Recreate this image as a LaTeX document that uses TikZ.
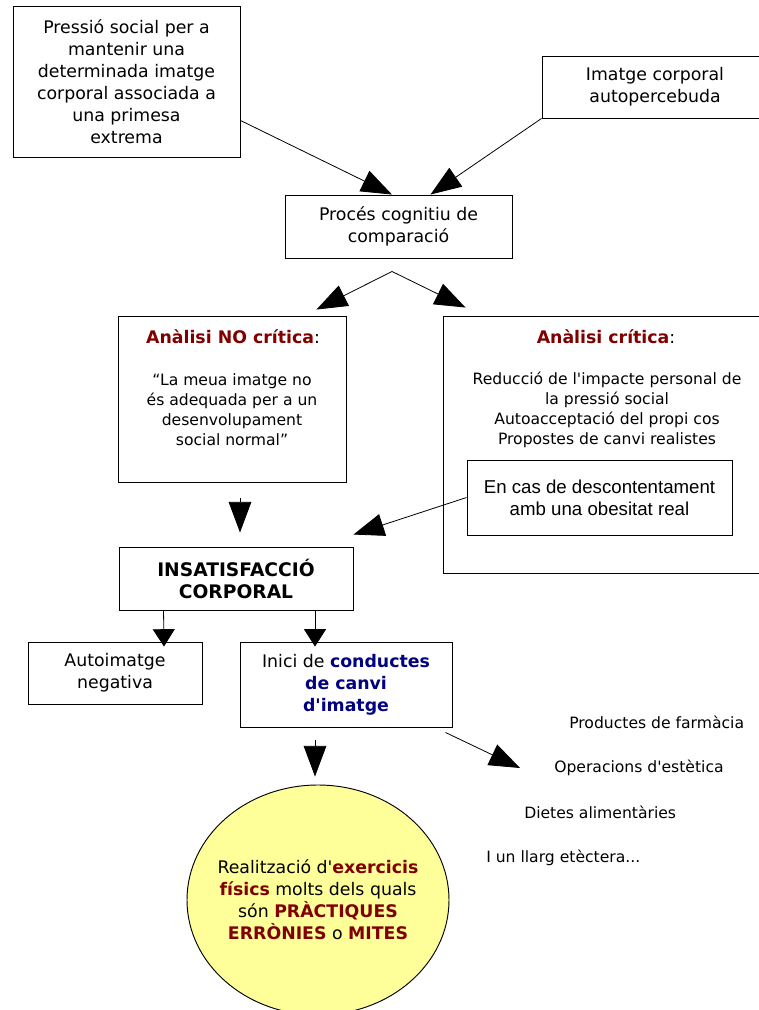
\documentclass[tikz,border=0pt]{standalone}
\usepackage{fontspec}
\setmainfont{DejaVu Sans}[Ligatures=TeXOff]
\newfontfamily\arialfont{Liberation Sans}
\usetikzlibrary{arrows.meta,shapes.geometric,calc}
\definecolor{dred}{RGB}{128,0,0}
\definecolor{dblue}{RGB}{0,0,128}
\definecolor{cyell}{RGB}{255,255,153}
\begin{document}
\begin{tikzpicture}[x=0.75pt,y=-0.75pt,
  box/.style={draw, line width=0.7pt, align=center, inner sep=0pt, font=\fontsize{13}{16.5}\selectfont},
  txt/.style={align=center, inner sep=0pt, font=\fontsize{11.7}{15}\selectfont},
  ttl/.style={align=center, inner sep=0pt, font=\fontsize{13}{16}\selectfont},
  arr/.style={line width=0.6pt, -{Triangle[length=23pt,width=17pt]}},
  arrs/.style={line width=0.6pt, -{Triangle[length=13pt,width=16.5pt]}},
  ]
\useasboundingbox (0,0) rectangle (759,1010);
\node[box, minimum width=170.25pt, minimum height=113.25pt] (b1) at (126.5,81.5)
  {Pressió social per a\\mantenir una\\determinada imatge\\corporal associada a\\una primesa\\extrema};
\node[box, minimum width=169.5pt, minimum height=46.5pt] (b2) at (655,87)
  {Imatge corporal\\autopercebuda};
\node[box, minimum width=170.25pt, minimum height=47.25pt] (b3) at (398.5,226.5)
  {Procés cognitiu de\\comparació};
\node[box, minimum width=171pt, minimum height=124.5pt] (b4) at (232,399) {};
\node[ttl] (t4a) at (233,337) {\textcolor{dred}{\textbf{Anàlisi NO crítica}}:};
\node[txt] (t4b) at (232,410) {“La meua imatge no\\és adequada per a un\\desenvolupament\\social normal”};
\node[box, minimum width=244.5pt, minimum height=192.75pt] (b5) at (606,444.5) {};
\node[ttl] (t5a) at (606,337) {\textcolor{dred}{\textbf{Anàlisi crítica}}:};
\node[txt] (t5b) at (607,410) {Reducció de l'impacte personal de\\la pressió social\\Autoacceptació del propi cos\\Propostes de canvi realistes};
\node[box, font=\arialfont\fontsize{14}{16.5}\selectfont, minimum width=198.75pt, minimum height=56.25pt] (b5i) at (599.5,497.5)
  {En cas de descontentament\\amb una obesitat real};
\node[box, font=\bfseries\fontsize{14}{16.5}\selectfont, minimum width=175.5pt, minimum height=47.25pt] (b6) at (236,578.5)
  {INSATISFACCIÓ\\CORPORAL};
\node[box, minimum width=130.5pt, minimum height=46.5pt] (b7) at (115,673) {Autoimatge\\negativa};
\node[box, minimum width=159pt, minimum height=63.75pt] (b8) at (346,684.5)
  {Inici de \textcolor{dblue}{\textbf{conductes}}\\\textcolor{dblue}{\textbf{de canvi}}\\\textcolor{dblue}{\textbf{d'imatge}}};
\node[ellipse, draw, fill=cyell, line width=0.7pt, minimum width=196.5pt, minimum height=172.5pt, inner sep=0pt] (c) at (318,900) {};
\node[align=center, inner sep=0pt, font=\fontsize{13}{16.5}\selectfont] (ct) at (c.center)
  {Realització d'\textcolor{dred}{\textbf{exercicis}}\\\textcolor{dred}{\textbf{físics}} molts dels quals\\són \textcolor{dred}{\textbf{PRÀCTIQUES}}\\\textcolor{dred}{\textbf{ERRÒNIES}} o \textcolor{dred}{\textbf{MITES}}};
\node[txt, anchor=west] (p1) at (569,722) {Productes de farmàcia};
\node[txt, anchor=west] (p2) at (554,768) {Operacions d'estètica};
\node[txt, anchor=west] (p3) at (524,812) {Dietes alimentàries};
\node[txt, anchor=west] (p4) at (486,858) {I un llarg etèctera...};
\coordinate (split) at ([xshift=-4.9pt,yshift=-9.75pt]b3.south);
\draw[arr] ([yshift=27.75pt]b1.south east) -- ([xshift=-4.9pt]b3.north);
\draw[arr] (b2.south west) -- ([xshift=-61.5pt]b3.north east);
\draw[arr] (split) -- ([xshift=-22.5pt,yshift=4.5pt]b4.north east);
\draw[arr] (split) -- ([xshift=17.25pt,yshift=6pt]b5.north west);
\draw[arr] ([xshift=6pt,yshift=-12pt]b4.south) -- ([xshift=3pt,yshift=10.5pt]b6.north);
\draw[arr] (b5i.west) -- ([yshift=9pt]b6.north east);
\draw[arrs] ([xshift=33.75pt]b6.south west) -- ([xshift=36.75pt,yshift=-3.75pt]b7.north);
\draw[arrs] ([xshift=59.25pt]b6.south) -- ([xshift=-23.25pt,yshift=-3.75pt]b8.north);
\draw[arr] ([xshift=-23.25pt,yshift=-9.75pt]b8.south) -- ([xshift=-2.25pt,yshift=6pt]c.north);
\draw[arr] ([xshift=-5.25pt,yshift=-3.75pt]b8.south east) -- ([xshift=-25.5pt]p2.west);
\end{tikzpicture}
\end{document}
